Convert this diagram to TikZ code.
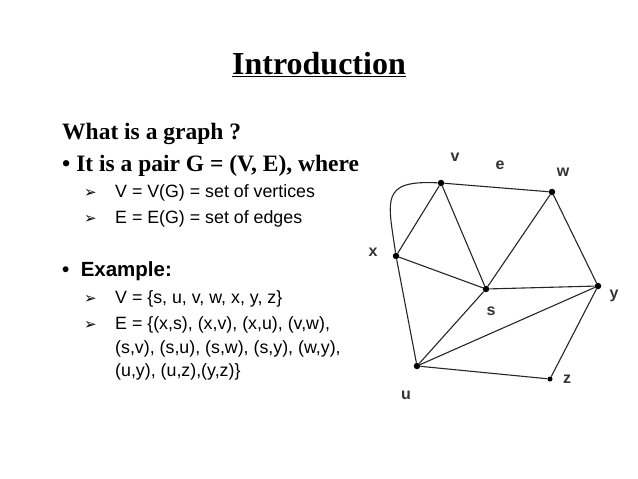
\documentclass[tikz,border=0pt]{standalone}
\usepackage{fontspec}
\setmainfont{Liberation Serif}
\newfontfamily\arial{Liberation Sans}
\newfontfamily\dejavu{DejaVu Sans}
\begin{document}
\begin{tikzpicture}[x=1pt,y=-1pt,
  vert/.style={circle,fill=black,inner sep=0pt,minimum size=6.5pt},
  lab/.style={font=\arial\bfseries\fontsize{16}{16}\selectfont,text=black!80},
  edge/.style={draw=black!85,line width=1.1pt},
  tl/.style={anchor=base west,inner sep=0pt},
  ser/.style={tl,font=\bfseries\fontsize{23.5}{23.5}\selectfont},
  sans/.style={tl,font=\arial\fontsize{17.8}{17.8}\selectfont},
  arr/.style={tl,font=\dejavu\fontsize{15}{15}\selectfont}]
\useasboundingbox (0,0) rectangle (638,479);
\node[anchor=base,inner sep=0pt,font=\bfseries\fontsize{32}{32}\selectfont] (title) at (319,74) {\underline{Introduction}};
\node[ser] (q) at (62,139) {What is a graph ?};
\node[ser] (b1) at (62,171) {\textbullet\ It is a pair G = (V, E), where};
\node[arr] (a1) at (84,197) {➢};
\node[sans] (t1) at (115,197) {V = V(G) = set of vertices};
\node[arr] (a2) at (84,223) {➢};
\node[sans] (t2) at (115,223) {E = E(G) = set of edges};
\node[tl,font=\arial\bfseries\fontsize{20.5}{20.5}\selectfont] (b2) at (62,276) {\textbullet\ \ Example:};
\node[arr] (a3) at (84,303) {➢};
\node[sans] (t3) at (115,303) {V = \{s, u, v, w, x, y, z\}};
\node[arr] (a4) at (84,329) {➢};
\node[sans] (t4) at (115,329) {E = \{(x,s), (x,v), (x,u), (v,w),};
\node[sans] (t5) at (115,353) {(s,v), (s,u), (s,w), (s,y), (w,y),};
\node[sans] (t6) at (115,376) {(u,y), (u,z),(y,z)\}};
% graph
\node[vert] (v) at (441,183) {};
\node[vert] (w) at (552,192) {};
\node[vert] (x) at (396,256) {};
\node[vert] (s) at (486,289) {};
\node[vert] (y) at (598,286) {};
\node[vert] (u) at (417,366) {};
\node[vert,minimum size=5pt] (z) at (550,379) {};
\draw[edge] (v) -- (w);
\draw[edge] (v) -- (x);
\draw[edge] (v) .. controls (380,180) and (388,200) .. (x);
\draw[edge] (v) -- (s);
\draw[edge] (x) -- (s);
\draw[edge] (x) -- (u);
\draw[edge] (w) -- (s);
\draw[edge] (w) -- (y);
\draw[edge] (s) -- (y);
\draw[edge] (s) -- (u);
\draw[edge] (u) -- (y);
\draw[edge] (u) -- (z);
\draw[edge] (z) -- (y);
\node[lab] (lv) at (455,157) {v};
\node[lab] (le) at (500,165) {e};
\node[lab] (lw) at (563,172) {w};
\node[lab] (lx) at (373,252) {x};
\node[lab] (ly) at (614,296) {y};
\node[lab] (ls) at (491,311) {s};
\node[lab] (lu) at (406,395) {u};
\node[lab] (lz) at (567,379) {z};
\end{tikzpicture}
\end{document}
